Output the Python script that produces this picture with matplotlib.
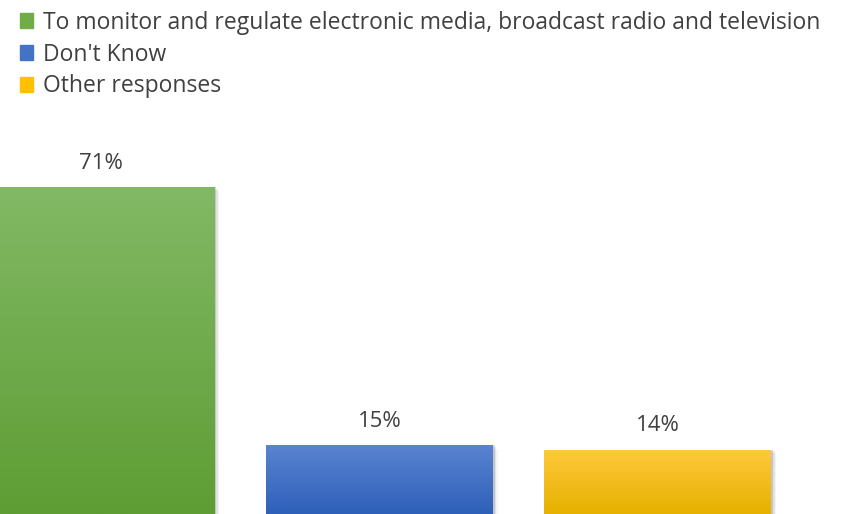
import numpy as np
import matplotlib.pyplot as plt
from matplotlib.patches import Patch, Rectangle
from matplotlib.colors import to_rgb

categories = ['To monitor and regulate electronic media, broadcast radio and television',
              "Don't Know",
              'Other responses']
values = [71, 15, 14]
labels = ['71%', '15%', '14%']
top_colors = ['#82b965', '#5b84d1', '#ffc93c']
bottom_colors = ['#5e9d34', '#2e60b9', '#e6b100']
legend_colors = ['#70ad47', '#4472c4', '#ffc000']

plt.rcParams['font.family'] = ['Open Sans', 'DejaVu Sans']
text_color = '#404040'

fig = plt.figure(figsize=(8.42, 5.14), dpi=100)
ax = fig.add_axes([0, 0, 1, 1])
ax.set_xlim(-0.3627, 2.661)
ax.set_ylim(0, 111.6)
ax.axis('off')

width = 0.815
x = np.arange(len(values))
bars = ax.bar(x, values, width=width, color='none', zorder=3)

for i, (b, v) in enumerate(zip(bars, values)):
    x0 = b.get_x()
    # soft shadow on the right side
    for k, a in enumerate([0.18, 0.10, 0.05]):
        sh = Rectangle((x0 + 0.006 * (k + 1), -1), width, v + 1 - 0.4 * k,
                       color='#404040', alpha=a, lw=0, zorder=1)
        ax.add_patch(sh)
    # vertical gradient fill clipped to the bar
    c1 = np.array(to_rgb(top_colors[i]))
    c2 = np.array(to_rgb(bottom_colors[i]))
    t = np.linspace(0, 1, 256)[:, None]
    grad = (c1 * (1 - t) + c2 * t)[:, None, :]
    im = ax.imshow(grad, extent=[x0, x0 + width, 0, v], aspect='auto',
                   zorder=2, interpolation='bilinear')
    im.set_clip_path(b)
    ax.annotate(labels[i], (b.get_x() + width / 2, v), xytext=(0, 17),
                textcoords='offset points', ha='center', va='center',
                fontsize=16, color=text_color)

handles = [Patch(color=c) for c in legend_colors]
leg = ax.legend(handles, categories, loc='upper left', bbox_to_anchor=(0.018, 0.988),
                frameon=False, fontsize=16.5, handlelength=0.6, handleheight=0.6,
                handletextpad=0.42, labelspacing=0.34, borderpad=0.2, borderaxespad=0)
for t in leg.get_texts():
    t.set_color(text_color)

fig.savefig('out.png', dpi=100)
